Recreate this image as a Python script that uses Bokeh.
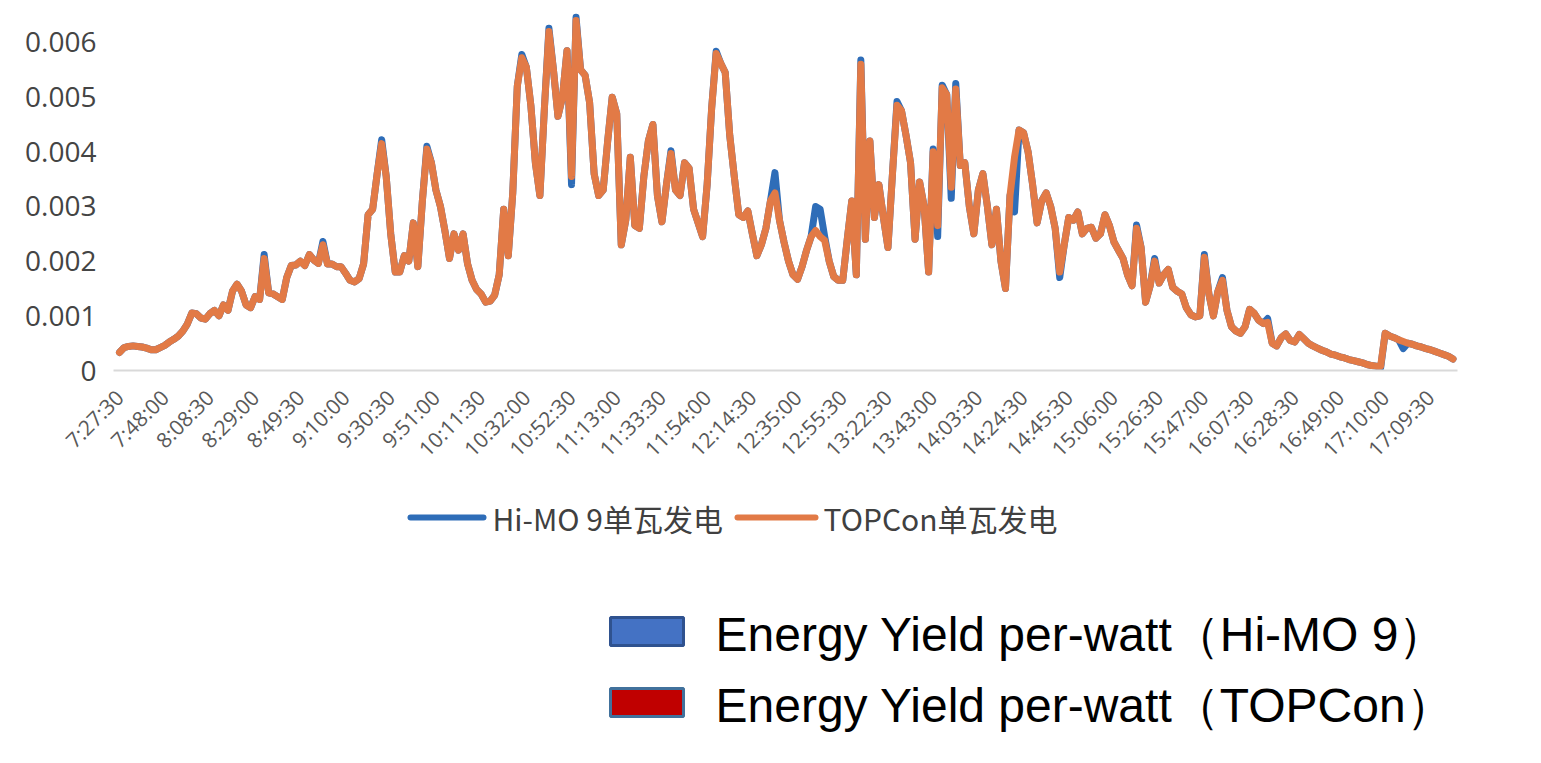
import math
from bokeh.plotting import figure
from bokeh.models import Range1d, FixedTicker, NumeralTickFormatter, ColumnDataSource
from bokeh.layouts import column
from bokeh.embed import file_html
from bokeh.resources import INLINE
from bokeh.core.properties import value

# ---------------- data ----------------
TIME_LABELS = ["7:27:30", "7:48:00", "8:08:30", "8:29:00", "8:49:30", "9:10:00",
               "9:30:30", "9:51:00", "10:11:30", "10:32:00", "10:52:30", "11:13:00",
               "11:33:30", "11:54:00", "12:14:30", "12:35:00", "12:55:30", "13:22:30",
               "13:43:00", "14:03:30", "14:24:30", "14:45:30", "15:06:00", "15:26:30",
               "15:47:00", "16:07:30", "16:28:30", "16:49:00", "17:10:00", "17:09:30"]
STEPS_PER_LABEL = 10   # samples between two labelled time stamps

SERIES_NAMES = ["Hi-MO 9单瓦发电", "TOPCon单瓦发电"]
BIG_LEGEND_LABELS = ["Energy Yield per-watt（Hi-MO 9）", "Energy Yield per-watt（TOPCon）"]

# energy yield per watt, in thousandths (x 0.001)
TOPCON_MILLI = [
    0.33, 0.42, 0.44, 0.45, 0.44, 0.43, 0.41, 0.38, 0.38, 0.42,
    0.46, 0.52, 0.57, 0.63, 0.72, 0.85, 1.05, 1.04, 0.96, 0.94,
    1.04, 1.10, 1.00, 1.20, 1.10, 1.45, 1.58, 1.45, 1.20, 1.15,
    1.35, 1.30, 2.05, 1.42, 1.40, 1.35, 1.30, 1.70, 1.92, 1.93,
    2.00, 1.92, 2.12, 2.02, 1.96, 2.30, 1.95, 1.95, 1.90, 1.90,
    1.78, 1.65, 1.62, 1.68, 1.95, 2.85, 2.95, 3.60, 4.15, 3.55,
    2.50, 1.80, 1.80, 2.10, 2.00, 2.70, 1.90, 3.10, 4.05, 3.80,
    3.30, 3.00, 2.55, 2.05, 2.50, 2.20, 2.50, 1.95, 1.65, 1.48,
    1.40, 1.25, 1.27, 1.38, 1.75, 2.95, 2.10, 3.25, 5.20, 5.72,
    5.55, 4.85, 3.80, 3.20, 4.80, 6.20, 5.50, 4.65, 5.00, 5.85,
    3.55, 6.40, 5.50, 5.40, 4.90, 3.60, 3.20, 3.30, 4.20, 5.00,
    4.70, 2.30, 2.75, 3.90, 2.65, 2.60, 3.55, 4.20, 4.50, 3.20,
    2.72, 3.40, 3.97, 3.30, 3.20, 3.80, 3.70, 2.95, 2.70, 2.45,
    3.40, 4.80, 5.80, 5.62, 5.45, 4.30, 3.55, 2.85, 2.80, 2.92,
    2.50, 2.10, 2.30, 2.60, 3.10, 3.25, 2.75, 2.35, 2.00, 1.75,
    1.67, 1.90, 2.20, 2.45, 2.56, 2.45, 2.38, 2.00, 1.72, 1.65,
    1.65, 2.40, 3.10, 1.75, 5.60, 2.40, 4.20, 2.80, 3.40, 2.80,
    2.25, 3.60, 4.85, 4.75, 4.30, 3.80, 2.40, 3.45, 3.00, 1.80,
    4.00, 2.65, 5.17, 5.05, 3.35, 5.15, 3.75, 3.80, 3.00, 2.50,
    3.30, 3.60, 3.00, 2.30, 2.95, 2.00, 1.50, 3.20, 3.90, 4.40,
    4.35, 4.00, 3.40, 2.70, 3.10, 3.25, 3.00, 2.60, 1.80, 2.30,
    2.80, 2.75, 2.90, 2.50, 2.60, 2.62, 2.42, 2.50, 2.85, 2.65,
    2.35, 2.20, 2.05, 1.75, 1.55, 2.60, 2.25, 1.25, 1.55, 2.00,
    1.60, 1.75, 1.85, 1.52, 1.45, 1.40, 1.15, 1.02, 0.98, 1.00,
    2.07, 1.40, 1.00, 1.45, 1.65, 1.10, 0.80, 0.72, 0.68, 0.80,
    1.12, 1.05, 0.92, 0.86, 0.88, 0.50, 0.45, 0.60, 0.67, 0.55,
    0.52, 0.66, 0.58, 0.50, 0.45, 0.41, 0.37, 0.34, 0.30, 0.28,
    0.25, 0.23, 0.20, 0.18, 0.16, 0.14, 0.11, 0.09, 0.08, 0.08,
    0.68, 0.63, 0.60, 0.56, 0.53, 0.50, 0.48, 0.45, 0.43, 0.40,
    0.38, 0.35, 0.32, 0.29, 0.26, 0.21,
]

HIMO9_MILLI = [
    0.33, 0.42, 0.44, 0.45, 0.44, 0.43, 0.41, 0.38, 0.38, 0.42,
    0.46, 0.52, 0.57, 0.63, 0.72, 0.85, 1.05, 1.04, 0.96, 0.94,
    1.04, 1.10, 1.00, 1.20, 1.10, 1.45, 1.58, 1.45, 1.20, 1.15,
    1.35, 1.30, 2.12, 1.42, 1.40, 1.35, 1.30, 1.70, 1.92, 1.93,
    2.00, 1.92, 2.12, 2.02, 1.96, 2.36, 1.95, 1.95, 1.90, 1.90,
    1.78, 1.65, 1.62, 1.68, 1.95, 2.85, 2.95, 3.60, 4.22, 3.55,
    2.50, 1.80, 1.80, 2.10, 2.00, 2.70, 1.90, 3.10, 4.10, 3.80,
    3.30, 3.00, 2.55, 2.05, 2.50, 2.20, 2.50, 1.95, 1.65, 1.48,
    1.40, 1.25, 1.27, 1.38, 1.75, 2.95, 2.10, 3.25, 5.20, 5.78,
    5.55, 4.85, 3.80, 3.20, 4.80, 6.26, 5.50, 4.65, 5.00, 5.85,
    3.40, 6.46, 5.50, 5.40, 4.90, 3.60, 3.20, 3.30, 4.20, 5.00,
    4.70, 2.30, 2.75, 3.90, 2.65, 2.60, 3.55, 4.20, 4.50, 3.20,
    2.72, 3.40, 4.02, 3.30, 3.20, 3.80, 3.70, 2.95, 2.70, 2.45,
    3.40, 4.80, 5.84, 5.62, 5.45, 4.30, 3.55, 2.85, 2.80, 2.92,
    2.50, 2.10, 2.30, 2.60, 3.10, 3.62, 2.75, 2.35, 2.00, 1.75,
    1.67, 1.90, 2.20, 2.45, 3.00, 2.95, 2.45, 2.00, 1.72, 1.65,
    1.65, 2.40, 3.10, 1.75, 5.68, 2.40, 4.20, 2.80, 3.40, 2.80,
    2.25, 3.60, 4.92, 4.75, 4.30, 3.80, 2.40, 3.45, 3.00, 1.80,
    4.05, 2.45, 5.22, 5.05, 3.15, 5.25, 3.75, 3.80, 3.00, 2.50,
    3.30, 3.60, 3.00, 2.30, 2.95, 2.00, 1.50, 3.20, 2.90, 4.40,
    4.35, 4.00, 3.40, 2.70, 3.10, 3.25, 3.00, 2.60, 1.70, 2.30,
    2.80, 2.75, 2.90, 2.50, 2.60, 2.62, 2.42, 2.50, 2.85, 2.65,
    2.35, 2.20, 2.05, 1.75, 1.55, 2.66, 2.25, 1.25, 1.55, 2.05,
    1.60, 1.75, 1.85, 1.52, 1.45, 1.40, 1.15, 1.02, 0.98, 1.00,
    2.12, 1.40, 1.00, 1.45, 1.70, 1.10, 0.80, 0.72, 0.68, 0.80,
    1.12, 1.05, 0.92, 0.86, 0.95, 0.50, 0.45, 0.60, 0.67, 0.55,
    0.52, 0.66, 0.58, 0.50, 0.45, 0.41, 0.37, 0.34, 0.30, 0.28,
    0.25, 0.23, 0.20, 0.18, 0.16, 0.14, 0.11, 0.09, 0.08, 0.05,
    0.68, 0.63, 0.60, 0.56, 0.40, 0.50, 0.48, 0.45, 0.43, 0.40,
    0.38, 0.35, 0.32, 0.29, 0.26, 0.21,
]

Y_TICKS = [0, 0.001, 0.002, 0.003, 0.004, 0.005, 0.006]

# unit conversion (thousandths -> actual value)
topcon = [v / 1000.0 for v in TOPCON_MILLI]
himo9 = [v / 1000.0 for v in HIMO9_MILLI]
step = list(range(len(topcon)))

BLUE = "#2E6DB8"
ORANGE = "#E27A46"
SERIES_COLORS = [BLUE, ORANGE]
LW = 7

src = ColumnDataSource(dict(x=step, himo=himo9, topcon=topcon))

W = 1495
LEFT, RIGHT = 113, 38
H1 = 480
FRAME_H = 370
H2 = 267

# ---------------- main chart ----------------
p = figure(width=W, height=H1, output_backend="svg", toolbar_location=None,
           x_range=Range1d(-1.33, 296.0), y_range=Range1d(0, 0.006768),
           min_border_left=LEFT, min_border_right=RIGHT, min_border_top=0,
           min_border_bottom=H1 - FRAME_H)
p.background_fill_color = "white"
p.border_fill_color = "white"
p.outline_line_color = None
p.xgrid.visible = False
p.ygrid.visible = False

p.line("x", "himo", source=src, line_width=LW, line_color=BLUE,
       line_join="round", line_cap="round")
p.line("x", "topcon", source=src, line_width=LW, line_color=ORANGE,
       line_join="round", line_cap="round")

tick_pos = [k * STEPS_PER_LABEL for k in range(len(TIME_LABELS))]
p.xaxis.ticker = FixedTicker(ticks=tick_pos)
p.xaxis.major_label_overrides = {t: lab for t, lab in zip(tick_pos, TIME_LABELS)}
p.xaxis.major_label_orientation = math.pi / 4
p.xaxis.major_tick_line_color = None
p.xaxis.minor_tick_line_color = None
p.xaxis.axis_line_color = "#d9d9d9"
p.xaxis.axis_line_width = 2
p.xaxis.major_label_text_font = "Open Sans"
p.xaxis.major_label_text_font_size = "21px"
p.xaxis.major_label_text_color = "#595959"
p.xaxis.major_label_standoff = 17

p.yaxis.ticker = FixedTicker(ticks=Y_TICKS)
p.yaxis.formatter = NumeralTickFormatter(format="0.[000]")
p.yaxis.axis_line_color = None
p.yaxis.major_tick_line_color = None
p.yaxis.minor_tick_line_color = None
p.yaxis.major_label_text_font = "Open Sans"
p.yaxis.major_label_text_font_size = "28px"
p.yaxis.major_label_text_color = "#444444"
p.yaxis.major_label_standoff = 11

# ---------------- legends (second canvas, pixel coordinates) ----------------
q = figure(width=W, height=H2, output_backend="svg", toolbar_location=None,
           x_range=Range1d(LEFT, W - RIGHT), y_range=Range1d(H2, 0),
           min_border_left=LEFT, min_border_right=RIGHT, min_border_top=0,
           min_border_bottom=0, x_axis_location=None, y_axis_location=None)
q.outline_line_color = None
q.grid.visible = False
q.background_fill_color = "white"
q.border_fill_color = "white"

# chart legend (line swatches)
leg_y = 37
q.segment(x0=[410, 737], y0=[leg_y, leg_y], x1=[483, 815], y1=[leg_y, leg_y],
          line_color=SERIES_COLORS, line_width=6, line_cap="round")
q.text(x=[492, 823], y=[leg_y, leg_y], text=SERIES_NAMES,
       text_font=value("Noto Sans CJK SC"), text_font_size="30px",
       text_baseline="middle", text_align="left", text_color="#404040")

# big legend (box swatches)
swatch_fill = ["#4472C4", "#C00000"]
swatch_line = ["#2F528F", "#41719C"]
rows_y = [151, 222]
q.rect(x=[646.5, 646.5], y=rows_y, width=73, height=28,
       fill_color=swatch_fill, line_color=swatch_line, line_width=3)
q.text(x=[715, 715], y=[r + 3 for r in rows_y], text=BIG_LEGEND_LABELS,
       text_font=value("Liberation Sans"), text_font_size="48px",
       text_baseline="middle", text_align="left", text_color="black")

layout = column(p, q, spacing=0)
open("out.html", "w").write(file_html(layout, INLINE))
